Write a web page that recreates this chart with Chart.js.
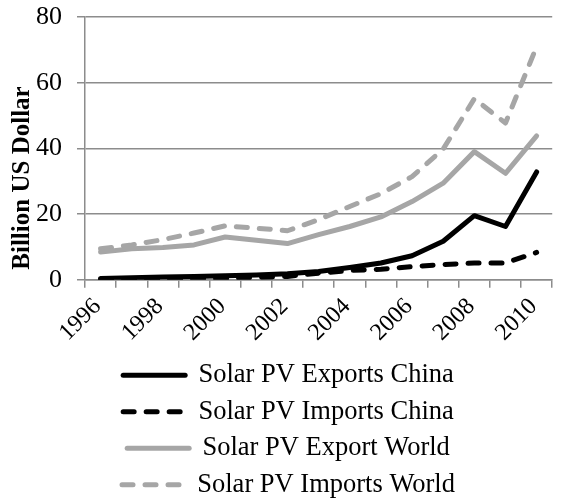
<!DOCTYPE html>
<html>
<head>
<meta charset="utf-8">
<script src="https://cdn.jsdelivr.net/npm/chart.js@4/dist/chart.umd.min.js"></script>
<style>
  html, body { margin: 0; padding: 0; background: #ffffff; }
  #wrap { width: 562px; height: 499px; }
</style>
</head>
<body>
<div id="wrap"><canvas id="c" width="562" height="499"></canvas></div>
<script>
const years = ["1996","1997","1998","1999","2000","2001","2002","2003","2004","2005","2006","2007","2008","2009","2010"];
const exportsChina = [0.4, 0.6, 0.8, 1.0, 1.2, 1.4, 1.8, 2.5, 3.7, 5.1, 7.3, 11.7, 19.5, 16.2, 32.8];
const importsChina = [0.1, 0.1, 0.2, 0.3, 0.4, 0.7, 1.0, 2.0, 2.8, 3.2, 4.0, 4.6, 5.1, 5.1, 8.3];
const exportWorld  = [8.4, 9.4, 9.8, 10.6, 13.0, 12.0, 11.0, 13.7, 16.2, 19.1, 23.8, 29.4, 39.0, 32.4, 43.8];
const importsWorld = [9.4, 10.6, 12.2, 14.2, 16.4, 15.7, 14.9, 18.3, 22.3, 26.2, 31.4, 39.8, 55.1, 47.7, 71.0];
const seriesNames = ["Solar PV Exports China", "Solar PV Imports China", "Solar PV Export World", "Solar PV Imports World"];
const yTitle = "Billion US Dollar";

const FONT = '"Liberation Serif", "Times New Roman", serif';
const BLACK = '#000000';
const GRAY = '#a6a6a6';
const GRID = '#8c8c8c';
const DASH = [11, 12];

function ds(label, data, color, dash) {
  return {
    label: label, data: data, borderColor: color, backgroundColor: color,
    borderWidth: 5, borderDash: dash, borderCapStyle: 'round', borderJoinStyle: 'round',
    pointRadius: 0, pointHoverRadius: 0, tension: 0, fill: false
  };
}

const yTitlePlugin = {
  id: 'yTitlePlugin',
  afterDraw(chart) {
    const ctx = chart.ctx;
    const area = chart.chartArea;
    ctx.save();
    ctx.font = 'bold 25px ' + FONT;
    ctx.fillStyle = '#000';
    ctx.textAlign = 'left';
    ctx.textBaseline = 'middle';
    ctx.translate(23, area.bottom - 10);
    ctx.rotate(-Math.PI / 2);
    ctx.fillText(yTitle, 0, 0);
    ctx.restore();
  }
};

new Chart(document.getElementById('c'), {
  type: 'line',
  data: {
    labels: years,
    datasets: [
      ds(seriesNames[0], exportsChina, BLACK, []),
      ds(seriesNames[1], importsChina, BLACK, DASH),
      ds(seriesNames[2], exportWorld, GRAY, []),
      ds(seriesNames[3], importsWorld, GRAY, DASH)
    ]
  },
  options: {
    responsive: false,
    animation: false,
    layout: { padding: { left: 15, top: 0, right: 0, bottom: -9 } },
    plugins: {
      tooltip: { enabled: false },
      legend: {
        display: true,
        position: 'bottom',
        align: 'center',
        labels: {
          usePointStyle: true,
          pointStyleWidth: 62,
          boxHeight: 5,
          padding: 10,
          color: '#000',
          font: { family: FONT, size: 26.5 },
          generateLabels: function(chart) {
            return chart.data.datasets.map(function(d, i) {
              return {
                text: d.label,
                fillStyle: d.borderColor,
                strokeStyle: d.borderColor,
                lineWidth: d.borderWidth,
                lineDash: d.borderDash,
                lineDashOffset: 0,
                lineCap: 'round',
                lineJoin: 'round',
                pointStyle: 'line',
                rotation: 0,
                hidden: false,
                fontColor: '#000',
                datasetIndex: i
              };
            });
          }
        }
      }
    },
    scales: {
      x: {
        type: 'category',
        offset: true,
        grid: { display: true, drawOnChartArea: false, drawTicks: true, tickLength: 8, offset: true, color: GRID, lineWidth: 1.5 },
        border: { display: true, color: GRID, width: 1.5 },
        ticks: {
          autoSkip: false, maxRotation: 45, minRotation: 45, padding: 5, labelOffset: -3,
          color: '#000', font: { family: FONT, size: 24 },
          callback: function(v, i) { return i % 2 === 0 ? years[i] : ''; }
        }
      },
      y: {
        min: 0, max: 80,
        grid: { color: GRID, lineWidth: 1.5, drawTicks: true, tickLength: 8 },
        border: { display: true, color: GRID, width: 1.5 },
        ticks: { stepSize: 20, padding: 15, color: '#000', font: { family: FONT, size: 26 } },
        title: { display: false },
        afterFit: function(scale) {
          scale.width = 70;
          scale.paddingTop = 17;
          scale.paddingBottom = 16;
        }
      }
    }
  },
  plugins: [yTitlePlugin]
});
</script>
</body>
</html>
